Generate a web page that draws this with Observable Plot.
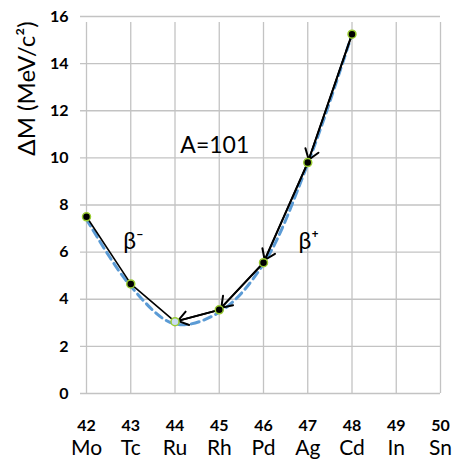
<!DOCTYPE html>
<html>
<head>
<meta charset="utf-8">
<script src="https://cdn.jsdelivr.net/npm/d3@7"></script>
<script src="https://cdn.jsdelivr.net/npm/@observablehq/plot@0.6"></script>
<style>
  html, body { margin: 0; padding: 0; background: #fff; }
</style>
</head>
<body>
<div id="chart"></div>
<script>
// Data
const zTicks = [42, 43, 44, 45, 46, 47, 48, 49, 50];
const symbols = ["Mo", "Tc", "Ru", "Rh", "Pd", "Ag", "Cd", "In", "Sn"];
const yTicks = [0, 2, 4, 6, 8, 10, 12, 14, 16];
const massZ = [42, 43, 44, 45, 46, 47, 48];
const massValues = [7.5, 4.65, 3.05, 3.55, 5.55, 9.8, 15.25];
const fitValues = [7.4, 4.55, 2.95, 3.45, 5.5, 9.75, 15.25];
const stableZ = 44;

const points = massZ.map((z, i) => ({z, m: massValues[i]}));
const fit = massZ.map((z, i) => ({z, m: fitValues[i]}));
const arrows = d3.range(massZ.length - 1, massZ.indexOf(stableZ), -1).map(i => ({
  x1: massZ[i], y1: massValues[i], x2: massZ[i - 1], y2: massValues[i - 1]
}));

const grid = "#c3c3c3";
const chart = Plot.plot({
  width: 456,
  height: 461,
  marginLeft: 86,
  marginRight: 16,
  marginTop: 16,
  marginBottom: 68,
  style: {fontFamily: "Lato, 'Open Sans', sans-serif", background: "#fff", color: "#000"},
  x: {domain: [42, 50]},
  y: {domain: [0, 16]},
  marks: [
    Plot.ruleX(zTicks, {x: d => d, y1: 0, y2: 16, stroke: grid, strokeWidth: 1.3, insetBottom: -6}),
    Plot.ruleY(yTicks, {y: d => d, x1: 42, x2: 50, stroke: grid, strokeWidth: 1.3, insetLeft: -6}),
    Plot.axisY({ticks: yTicks, tickSize: 0, tickPadding: 18, fontSize: 16, fontWeight: "bold", label: null}),
    Plot.axisX({ticks: zTicks, tickSize: 0, tickPadding: 26, fontSize: 16, fontWeight: "bold", label: null}),
    Plot.axisX({ticks: zTicks, tickFormat: d => symbols[zTicks.indexOf(d)], tickSize: 0, tickPadding: 47, fontSize: 21, label: null}),
    Plot.text(["ΔM (MeV/c²)"], {frameAnchor: "top-left", textAnchor: "middle", lineAnchor: "middle", rotate: -90, dx: -59, dy: 72, fontSize: 24}),
    Plot.line(fit, {x: "z", y: "m", curve: "catmull-rom", stroke: "#5b9bd5", strokeWidth: 3, strokeDasharray: "8,5"}),
    Plot.line(points, {x: "z", y: "m", stroke: "#000", strokeWidth: 1.6}),
    Plot.arrow(arrows, {x1: "x1", y1: "y1", x2: "x2", y2: "y2", stroke: "#000", strokeWidth: 2, headLength: 9, headAngle: 70, insetEnd: 3}),
    Plot.dot(points, {x: "z", y: "m", r: 4, fill: d => d.z === stableZ ? "#c9dcf2" : "#000", stroke: "#9acd32", strokeWidth: 1.5}),
    Plot.text(["A=101"], {x: 44.9, y: 10.5, fontSize: 23}),
    Plot.text(["β⁻"], {x: 43.06, y: 6.45, fontSize: 23}),
    Plot.text(["β⁺"], {x: 47.02, y: 6.45, fontSize: 23})
  ]
});
document.getElementById("chart").appendChild(chart);
</script>
</body>
</html>
